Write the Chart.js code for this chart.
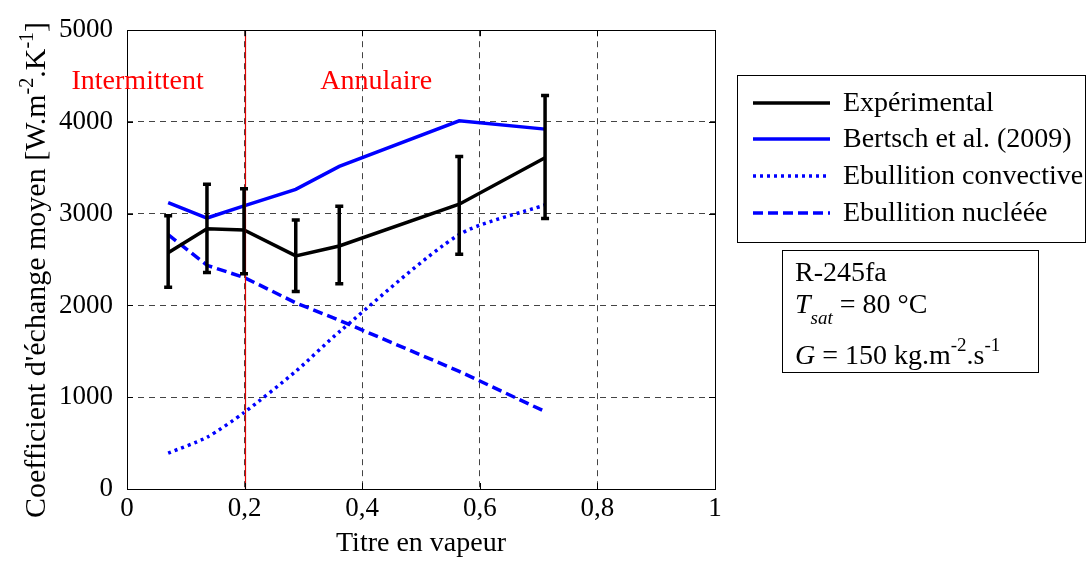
<!DOCTYPE html>
<html>
<head>
<meta charset="utf-8">
<script src="https://cdn.jsdelivr.net/npm/chart.js@4.4.0/dist/chart.umd.min.js"></script>
<style>
    body { margin: 0; background: #fff; }
    #wrap { width: 1087px; height: 561px; }
</style>
</head>
<body>
<div id="wrap"><canvas id="chart" width="1087" height="561"></canvas></div>
<script>
// Data
const titre = [0.070, 0.136, 0.199, 0.287, 0.361, 0.565, 0.711];
const experimental = [2575, 2837, 2823, 2540, 2648, 3103, 3610];
const errHaut = [2977, 3322, 3272, 2931, 3082, 3624, 4289];
const errBas = [2198, 2360, 2346, 2152, 2238, 2557, 2949];
const bertsch = [3122, 2953, 3085, 3265, 3516, 4012, 3922];
const convective = [391, 564, 833, 1282, 1713, 2773, 3096];
const nucleee = [2773, 2438, 2306, 2029, 1839, 1282, 844];
const xTicks = [0, 0.2, 0.4, 0.6, 0.8, 1];
const yTicks = [0, 1000, 2000, 3000, 4000, 5000];

const FONT = '"Liberation Serif", "Times New Roman", serif';
const BLUE = '#0000ff';

const pts = (ys) => ys.map((y, i) => ({ x: titre[i], y: y }));

// Draws runs of text with superscripts / subscripts, left aligned
function drawRuns(ctx, runs, x, y) {
    runs.forEach(r => {
        ctx.font = (r.style || '') + ' ' + r.size + 'px ' + FONT;
        ctx.fillText(r.t, x, y + (r.dy || 0));
        x += ctx.measureText(r.t).width;
    });
    return x;
}
function runsWidth(ctx, runs) {
    let w = 0;
    runs.forEach(r => {
        ctx.font = (r.style || '') + ' ' + r.size + 'px ' + FONT;
        w += ctx.measureText(r.t).width;
    });
    return w;
}

// Error bars, frame, regime line, annotations, legend
const decorPlugin = {
    id: 'decor',
    afterDatasetsDraw(chart) {
        const { ctx, chartArea: a, scales: { x, y } } = chart;
        ctx.save();

        // regime boundary
        const rx = Math.round(x.getPixelForValue(0.2)) + 0.5;
        ctx.strokeStyle = '#e00000';
        ctx.lineWidth = 1.2;
        ctx.beginPath();
        ctx.moveTo(rx, a.top);
        ctx.lineTo(rx, a.bottom);
        ctx.stroke();

        // error bars
        ctx.strokeStyle = '#000';
        ctx.lineWidth = 3.5;
        titre.forEach((t, i) => {
            const px = x.getPixelForValue(t);
            const top = y.getPixelForValue(errHaut[i]);
            const bot = y.getPixelForValue(errBas[i]);
            ctx.beginPath();
            ctx.moveTo(px, top);
            ctx.lineTo(px, bot);
            ctx.moveTo(px - 4, top);
            ctx.lineTo(px + 4, top);
            ctx.moveTo(px - 4, bot);
            ctx.lineTo(px + 4, bot);
            ctx.stroke();
        });

        // axes frame + inward ticks
        ctx.lineWidth = 1;
        ctx.strokeRect(Math.round(a.left) + 0.5, Math.round(a.top) + 0.5,
            Math.round(a.right - a.left), Math.round(a.bottom - a.top));
        ctx.beginPath();
        xTicks.forEach(v => {
            const px = Math.round(x.getPixelForValue(v)) + 0.5;
            ctx.moveTo(px, a.bottom); ctx.lineTo(px, a.bottom - 6);
            ctx.moveTo(px, a.top); ctx.lineTo(px, a.top + 6);
        });
        yTicks.forEach(v => {
            const py = Math.round(y.getPixelForValue(v)) + 0.5;
            ctx.moveTo(a.left, py); ctx.lineTo(a.left + 6, py);
            ctx.moveTo(a.right, py); ctx.lineTo(a.right - 6, py);
        });
        ctx.stroke();

        // regime labels
        ctx.fillStyle = '#ff0000';
        ctx.font = '28px ' + FONT;
        ctx.textAlign = 'center';
        ctx.textBaseline = 'middle';
        ctx.fillText('Intermittent', x.getPixelForValue(0.018), y.getPixelForValue(4440));
        ctx.fillText('Annulaire', x.getPixelForValue(0.424), y.getPixelForValue(4440));

        // y axis title with superscripts
        ctx.fillStyle = '#000';
        ctx.textAlign = 'left';
        ctx.textBaseline = 'alphabetic';
        const yTitle = [
            { t: 'Coefficient d\'échange moyen [W.m', size: 30 },
            { t: '-2', size: 20, dy: -12 },
            { t: '.K', size: 30 },
            { t: '-1', size: 20, dy: -12 },
            { t: ']', size: 30 }
        ];
        ctx.translate(35, 270);
        ctx.rotate(-Math.PI / 2);
        drawRuns(ctx, yTitle, -runsWidth(ctx, yTitle) / 2, 10);
        ctx.setTransform(1, 0, 0, 1, 0, 0);

        // legend box
        ctx.lineWidth = 1;
        ctx.strokeStyle = '#000';
        ctx.fillStyle = '#fff';
        ctx.fillRect(737.5, 75.5, 348, 167);
        ctx.strokeRect(737.5, 75.5, 348, 167);
        const rows = [103, 139, 176, 213];
        chart.data.datasets.forEach((ds, i) => {
            ctx.strokeStyle = ds.borderColor;
            ctx.lineWidth = ds.borderWidth;
            ctx.setLineDash(ds.borderDash || []);
            ctx.beginPath();
            ctx.moveTo(753, rows[i]);
            ctx.lineTo(830, rows[i]);
            ctx.stroke();
            ctx.setLineDash([]);
            ctx.fillStyle = '#000';
            ctx.font = '28px ' + FONT;
            ctx.textBaseline = 'middle';
            ctx.fillText(ds.label, 843, rows[i] + 1);
        });

        // conditions box
        ctx.lineWidth = 1;
        ctx.strokeStyle = '#000';
        ctx.strokeRect(782.5, 250.5, 256, 122);
        ctx.fillStyle = '#000';
        ctx.textBaseline = 'alphabetic';
        drawRuns(ctx, [{ t: 'R-245fa', size: 28 }], 795, 281);
        drawRuns(ctx, [
            { t: 'T', size: 28, style: 'italic' },
            { t: 'sat', size: 19, style: 'italic', dy: 11 },
            { t: ' = 80 °C', size: 28 }
        ], 795, 313);
        drawRuns(ctx, [
            { t: 'G', size: 28, style: 'italic' },
            { t: ' = 150 kg.m', size: 28 },
            { t: '-2', size: 19, dy: -13 },
            { t: '.s', size: 28 },
            { t: '-1', size: 19, dy: -13 }
        ], 795, 364);
        ctx.restore();
    }
};

new Chart(document.getElementById('chart'), {
    type: 'line',
    data: {
        datasets: [
            {
                label: 'Expérimental',
                data: pts(experimental),
                borderColor: '#000',
                borderWidth: 3.5,
                pointRadius: 0,
                tension: 0
            },
            {
                label: 'Bertsch et al. (2009)',
                data: pts(bertsch),
                borderColor: BLUE,
                borderWidth: 3.5,
                pointRadius: 0,
                tension: 0
            },
            {
                label: 'Ebullition convective',
                data: pts(convective),
                borderColor: BLUE,
                borderWidth: 3.5,
                borderDash: [3, 4],
                pointRadius: 0,
                tension: 0.25
            },
            {
                label: 'Ebullition nucléée',
                data: pts(nucleee),
                borderColor: BLUE,
                borderWidth: 3.5,
                borderDash: [10, 5],
                pointRadius: 0,
                tension: 0
            }
        ]
    },
    options: {
        responsive: false,
        animation: false,
        layout: { padding: { top: 25, right: 372, left: 0, bottom: 0 } },
        plugins: {
            legend: { display: false },
            tooltip: { enabled: false }
        },
        scales: {
            x: {
                type: 'linear',
                min: 0,
                max: 1,
                afterFit: (scale) => { scale.height = 72; },
                afterBuildTicks: (scale) => { scale.ticks = xTicks.map(v => ({ value: v })); },
                grid: { color: '#444', lineWidth: 1, drawTicks: false },
                border: { display: false, dash: [6, 5] },
                ticks: {
                    padding: 4,
                    color: '#000',
                    font: { family: FONT, size: 27 },
                    callback: (v) => String(Number(v.toFixed(1))).replace('.', ',')
                },
                title: {
                    display: true,
                    text: 'Titre en vapeur',
                    color: '#000',
                    font: { family: FONT, size: 28 },
                    padding: { top: 0, bottom: 1 }
                }
            },
            y: {
                min: 0,
                max: 5000,
                afterFit: (scale) => { scale.width = 127; },
                afterBuildTicks: (scale) => { scale.ticks = yTicks.map(v => ({ value: v })); },
                grid: { color: '#444', lineWidth: 1, drawTicks: false },
                border: { display: false, dash: [6, 5] },
                ticks: {
                    padding: 14,
                    color: '#000',
                    font: { family: FONT, size: 27 },
                    callback: (v) => String(v)
                }
            }
        }
    },
    plugins: [decorPlugin]
});
</script>
</body>
</html>
